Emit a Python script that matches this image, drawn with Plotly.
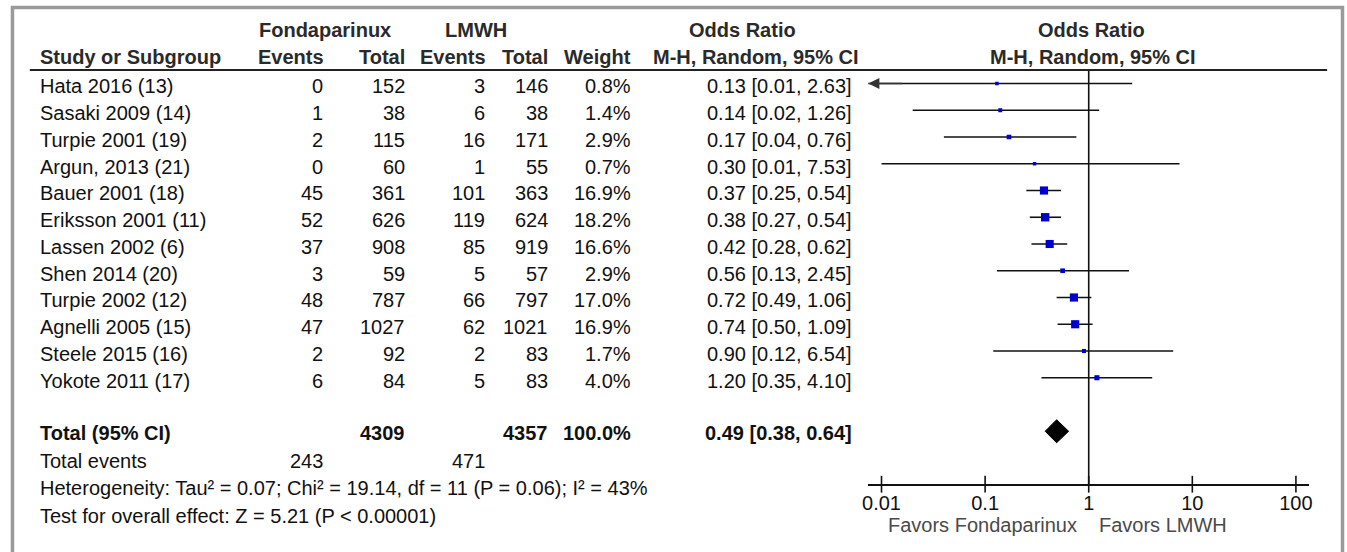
import numpy as np
import plotly.graph_objects as go

# ---------------- data ----------------
studies = ["Hata 2016 (13)", "Sasaki 2009 (14)", "Turpie 2001 (19)", "Argun, 2013 (21)",
           "Bauer 2001 (18)", "Eriksson 2001 (11)", "Lassen 2002 (6)", "Shen 2014 (20)",
           "Turpie 2002 (12)", "Agnelli 2005 (15)", "Steele 2015 (16)", "Yokote 2011 (17)"]
fonda_events = [0, 1, 2, 0, 45, 52, 37, 3, 48, 47, 2, 6]
fonda_total = [152, 38, 115, 60, 361, 626, 908, 59, 787, 1027, 92, 84]
lmwh_events = [3, 6, 16, 1, 101, 119, 85, 5, 66, 62, 2, 5]
lmwh_total = [146, 38, 171, 55, 363, 624, 919, 57, 797, 1021, 83, 83]
weights = [0.8, 1.4, 2.9, 0.7, 16.9, 18.2, 16.6, 2.9, 17.0, 16.9, 1.7, 4.0]
or_est = [0.13, 0.14, 0.17, 0.30, 0.37, 0.38, 0.42, 0.56, 0.72, 0.74, 0.90, 1.20]
or_lo = [0.01, 0.02, 0.04, 0.01, 0.25, 0.27, 0.28, 0.13, 0.49, 0.50, 0.12, 0.35]
or_hi = [2.63, 1.26, 0.76, 7.53, 0.54, 0.54, 0.62, 2.45, 1.06, 1.09, 6.54, 4.10]
truncated_left = [True, False, False, False, False, False, False, False, False, False, False, False]

total_label = "Total (95% CI)"
total_fonda = 4309
total_lmwh = 4357
total_weight = 100.0
pooled_est, pooled_lo, pooled_hi = 0.49, 0.38, 0.64
total_events_fonda = 243
total_events_lmwh = 471
heterogeneity_text = "Heterogeneity: Tau² = 0.07; Chi² = 19.14, df = 11 (P = 0.06); I² = 43%"
overall_text = "Test for overall effect: Z = 5.21 (P < 0.00001)"

axis_ticks = [0.01, 0.1, 1, 10, 100]
axis_tick_labels = ["0.01", "0.1", "1", "10", "100"]
favors_left = "Favors Fondaparinux"
favors_right = "Favors LMWH"

# ---------------- layout constants ----------------
W, H = 1347, 552
ROW0_PX, ROW_PX = 83.5, 26.75           # pixel of row 0 line, pixel per row
Y_TOP = -ROW0_PX / ROW_PX
Y_BOT = (H - ROW0_PX) / ROW_PX
TXT = 0.11                              # text offset (rows)
FONT = "Liberation Sans, Arial, Helvetica, sans-serif"
FS = 20
TXT_COL = "#111111"
HDR_COL = "#2a2a2a"
X_LOG_HALF = 2.1285
axis_lo_val = 10 ** (-X_LOG_HALF)

def px(x):
    return x / W

annotations = []

def ann(text, xpix, row, anchor="left", bold=False, color=TXT_COL, size=FS):
    if bold:
        text = "<b>" + text + "</b>"
    annotations.append(dict(text=text, x=px(xpix), y=row, xref="paper", yref="y",
                            xanchor=anchor, yanchor="middle", showarrow=False,
                            borderpad=0,
                            font=dict(family=FONT, size=size, color=color)))

# column edges (pixels)
C_NAME = 33
C_FE, C_FT, C_LE, C_LT, C_W, C_OR = 320, 403, 483, 547, 630, 853

# headers
ann("Fondaparinux", 321, -2.0, "center", True, HDR_COL)
ann("LMWH", 473, -2.0, "center", True, HDR_COL)
ann("Odds Ratio", 741, -2.0, "center", True, HDR_COL)
ann("Odds Ratio", 1093, -2.0, "center", True, HDR_COL)
ann("Study or Subgroup", C_NAME, -0.99, "left", True, HDR_COL)
ann("Events", C_FE + 1, -0.99, "right", True, HDR_COL)
ann("Total", C_FT, -0.99, "right", True, HDR_COL)
ann("Events", C_LE + 1, -0.99, "right", True, HDR_COL)
ann("Total", C_LT, -0.99, "right", True, HDR_COL)
ann("Weight", C_W, -0.99, "right", True, HDR_COL)
ann("M-H, Random, 95% CI", 860, -0.99, "right", True, HDR_COL)
ann("M-H, Random, 95% CI", 1094, -0.99, "center", True, HDR_COL)

# study rows
for i, s in enumerate(studies):
    r = i + TXT
    ann(s, C_NAME, r)
    ann(str(fonda_events[i]), C_FE, r, "right")
    ann(str(fonda_total[i]), C_FT, r, "right")
    ann(str(lmwh_events[i]), C_LE, r, "right")
    ann(str(lmwh_total[i]), C_LT, r, "right")
    ann(f"{weights[i]:.1f}%", C_W, r, "right")
    ann(f"{or_est[i]:.2f} [{or_lo[i]:.2f}, {or_hi[i]:.2f}]", C_OR, r, "right")

n = len(studies)
R_TOTAL = n + 1
RT = R_TOTAL + 0.05
ann(total_label, C_NAME, RT, "left", True)
ann(str(total_fonda), C_FT, RT, "right", True)
ann(str(total_lmwh), C_LT, RT, "right", True)
ann(f"{total_weight:.1f}%", C_W, RT, "right", True)
ann(f"{pooled_est:.2f} [{pooled_lo:.2f}, {pooled_hi:.2f}]", C_OR, RT, "right", True)
ann("Total events", C_NAME, 14.12)
ann(str(total_events_fonda), C_FE, 14.12, "right")
ann(str(total_events_lmwh), C_LE, 14.12, "right")
ann(heterogeneity_text, C_NAME, 15.13)
ann(overall_text, C_NAME, 16.18)

R_AXIS = 14.98
ann(favors_left, 1079, 16.52, "right", color="#4a4a4a")
ann(favors_right, 1099, 16.52, "left", color="#4a4a4a")

# ---------------- traces ----------------
fig = go.Figure()

# vertical null line
fig.add_trace(go.Scatter(x=[1, 1], y=[-0.505, R_AXIS], mode="lines",
                         line=dict(color="#111111", width=1.6), hoverinfo="skip"))

# CI lines
cx, cy = [], []
for i in range(n):
    lo = axis_lo_val if truncated_left[i] else or_lo[i]
    cx += [lo, or_hi[i], None]
    cy += [i, i, None]
fig.add_trace(go.Scatter(x=cx, y=cy, mode="lines", line=dict(color="#111111", width=1.6),
                         hoverinfo="skip"))

# study squares
sizes = [2.2 + 1.45 * np.sqrt(w) for w in weights]
fig.add_trace(go.Scatter(x=or_est, y=list(range(n)), mode="markers",
                         marker=dict(symbol="square", size=sizes, color="#0000CC",
                                     opacity=1, line=dict(width=0)),
                         hoverinfo="skip"))

# pooled diamond
dh = 0.43
fig.add_trace(go.Scatter(x=[pooled_lo, pooled_est, pooled_hi, pooled_est, pooled_lo],
                         y=[R_TOTAL, R_TOTAL - dh, R_TOTAL, R_TOTAL + dh, R_TOTAL],
                         mode="lines", fill="toself", fillcolor="#000000",
                         line=dict(color="#000000", width=1), hoverinfo="skip"))

# axis tick marks crossing the axis line
fig.add_trace(go.Scatter(x=axis_ticks, y=[R_AXIS] * len(axis_ticks), mode="markers",
                         marker=dict(symbol="line-ns", size=12,
                                     line=dict(color="#111111", width=1.6)),
                         hoverinfo="skip", cliponaxis=False))

# left arrow for truncated CI
for i in range(n):
    if truncated_left[i]:
        annotations.append(dict(x=np.log10(axis_lo_val), y=i, ax=np.log10(axis_lo_val * 2.2), ay=i,
                                xref="x", yref="y", axref="x", ayref="y", text="",
                                showarrow=True, arrowhead=2, arrowsize=1.4, arrowwidth=1.6,
                                arrowcolor="#333333", standoff=0))

shapes = [
    dict(type="rect", xref="paper", yref="paper", x0=px(6.5), x1=px(1345.5),
         y0=-0.2, y1=1 - 7.5 / H, line=dict(color="#9a9a9a", width=3.5),
         fillcolor="rgba(0,0,0,0)", layer="above"),
    dict(type="line", xref="paper", yref="y", x0=px(24), x1=px(1330), y0=-0.505, y1=-0.505,
         line=dict(color="#222222", width=2)),
]

fig.update_layout(
    width=W, height=H,
    margin=dict(l=0, r=0, t=0, b=0, pad=0),
    paper_bgcolor="white", plot_bgcolor="rgba(0,0,0,0)",
    showlegend=False,
    annotations=annotations,
    shapes=shapes,
    xaxis=dict(type="log", range=[-X_LOG_HALF, X_LOG_HALF], domain=[px(868), px(1312)],
               anchor="free", position=1 - 484.5 / H,
               showline=True, linecolor="#111111", linewidth=1.6,
               tickvals=axis_ticks, ticktext=axis_tick_labels, ticks="",
               ticklabelstandoff=1,
               tickfont=dict(family=FONT, size=FS, color="#111111"),
               showgrid=False, zeroline=False, fixedrange=True),
    yaxis=dict(range=[Y_BOT, Y_TOP], domain=[0, 1], visible=False,
               showgrid=False, zeroline=False, fixedrange=True),
)

fig.write_html("out.html", config={"displayModeBar": False},
               post_script="document.body.style.margin='0';document.body.style.overflow='hidden';")
